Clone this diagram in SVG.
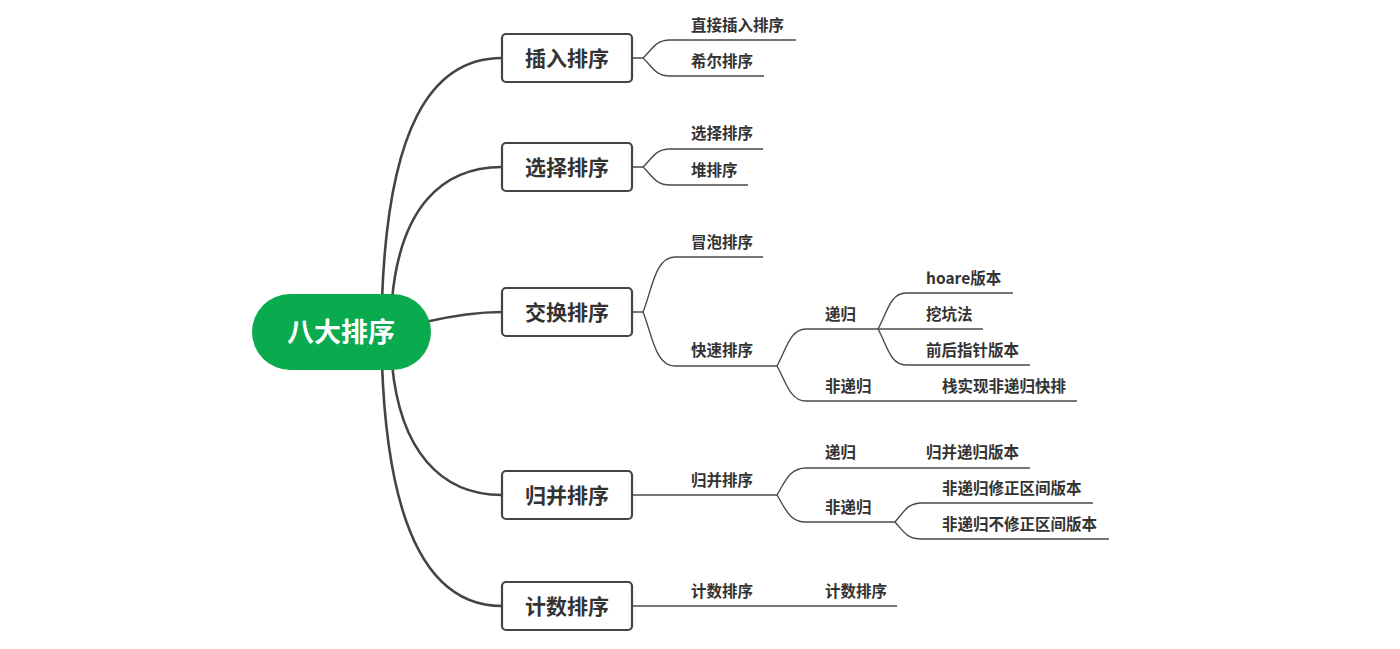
<svg xmlns="http://www.w3.org/2000/svg" width="1400" height="649" viewBox="0 0 1400 649">
<style>
.main{fill:none;stroke:#444;stroke-width:2.6;stroke-linecap:round}
.leaf{fill:none;stroke:#4a4a4a;stroke-width:1.4}
.box{fill:#fff;stroke:#444;stroke-width:2.2}
.bt{font-family:"Microsoft YaHei","Noto Sans CJK SC",sans-serif;font-weight:bold;font-size:21px;fill:#333;text-anchor:middle}
.lt{font-family:"Microsoft YaHei","Noto Sans CJK SC",sans-serif;font-weight:bold;font-size:15.5px;fill:#333}
.rt{font-family:"Microsoft YaHei","Noto Sans CJK SC",sans-serif;font-weight:bold;font-size:27px;fill:#fff;text-anchor:middle}
</style>
<rect width="1400" height="649" fill="#fff"/>
<g id="connectors">
<path class="main" d="M382,300 C388,130 430,58 502,58"/>
<path class="main" d="M392,300 C400,210 440,167 502,167"/>
<path class="main" d="M425,322 C460,314 480,312 502,312"/>
<path class="main" d="M392,364 C400,450 440,495 502,495"/>
<path class="main" d="M382,364 C388,530 430,606 502,606"/>
<path class="leaf" d="M632,58 H643 C652,50 655,40 670,40 H796"/>
<path class="leaf" d="M643,58 C652,66 655,76 670,76 H764"/>
<path class="leaf" d="M632,167 H643 C652,159 655,149 670,149 H763"/>
<path class="leaf" d="M643,167 C652,175 655,185 670,185 H748"/>
<path class="leaf" d="M632,312 H643 C652,290 655,257 675,257 H763"/>
<path class="leaf" d="M643,312 C652,334 655,366 675,366 H777"/>
<path class="leaf" d="M777,366 C786,350 790,329 806,329 H878"/>
<path class="leaf" d="M777,366 C786,382 790,401 806,401 H1077"/>
<path class="leaf" d="M878,329 C887,313 890,293 906,293 H1013"/>
<path class="leaf" d="M878,329 H983"/>
<path class="leaf" d="M878,329 C887,345 890,365 906,365 H1030"/>
<path class="leaf" d="M632,495 H777"/>
<path class="leaf" d="M777,495 C786,480 790,468 806,468 H1030"/>
<path class="leaf" d="M777,495 C786,510 790,522 806,522 H895"/>
<path class="leaf" d="M895,522 C904,512 907,503 922,503 H1093"/>
<path class="leaf" d="M895,522 C904,532 907,539 922,539 H1109"/>
<path class="leaf" d="M632,606 H897"/>
</g>
<g id="root">
<rect x="252" y="294" width="179" height="76" rx="38" fill="#0aaa4e"/>
<text class="rt" x="341" y="342">八大排序</text>
</g>
<g id="n1"><rect class="box" x="502" y="34" width="130" height="48" rx="4"/><text class="bt" x="567" y="65.5">插入排序</text></g>
<g id="n2"><rect class="box" x="502" y="143" width="130" height="48" rx="4"/><text class="bt" x="567" y="174.5">选择排序</text></g>
<g id="n3"><rect class="box" x="502" y="288" width="130" height="48" rx="4"/><text class="bt" x="567" y="319.5">交换排序</text></g>
<g id="n4"><rect class="box" x="502" y="471" width="130" height="48" rx="4"/><text class="bt" x="567" y="502.5">归并排序</text></g>
<g id="n5"><rect class="box" x="502" y="582" width="130" height="48" rx="4"/><text class="bt" x="567" y="613.5">计数排序</text></g>
<g id="l1"><text class="lt" x="691" y="31">直接插入排序</text></g>
<g id="l2"><text class="lt" x="691" y="67">希尔排序</text></g>
<g id="l3"><text class="lt" x="691" y="139">选择排序</text></g>
<g id="l4"><text class="lt" x="691" y="176">堆排序</text></g>
<g id="l5"><text class="lt" x="691" y="248">冒泡排序</text></g>
<g id="l6"><text class="lt" x="691" y="356">快速排序</text></g>
<g id="l7"><text class="lt" x="825" y="320">递归</text></g>
<g id="l8"><text class="lt" x="825" y="392">非递归</text></g>
<g id="l9"><text class="lt" x="926" y="284">hoare版本</text></g>
<g id="l10"><text class="lt" x="926" y="320">挖坑法</text></g>
<g id="l11"><text class="lt" x="926" y="356">前后指针版本</text></g>
<g id="l12"><text class="lt" x="942" y="392">栈实现非递归快排</text></g>
<g id="l13"><text class="lt" x="691" y="486">归并排序</text></g>
<g id="l14"><text class="lt" x="825" y="458">递归</text></g>
<g id="l15"><text class="lt" x="926" y="458">归并递归版本</text></g>
<g id="l16"><text class="lt" x="825" y="513">非递归</text></g>
<g id="l17"><text class="lt" x="942" y="494">非递归修正区间版本</text></g>
<g id="l18"><text class="lt" x="942" y="530">非递归不修正区间版本</text></g>
<g id="l19"><text class="lt" x="691" y="597">计数排序</text></g>
<g id="l20"><text class="lt" x="825" y="597">计数排序</text></g>
</svg>
